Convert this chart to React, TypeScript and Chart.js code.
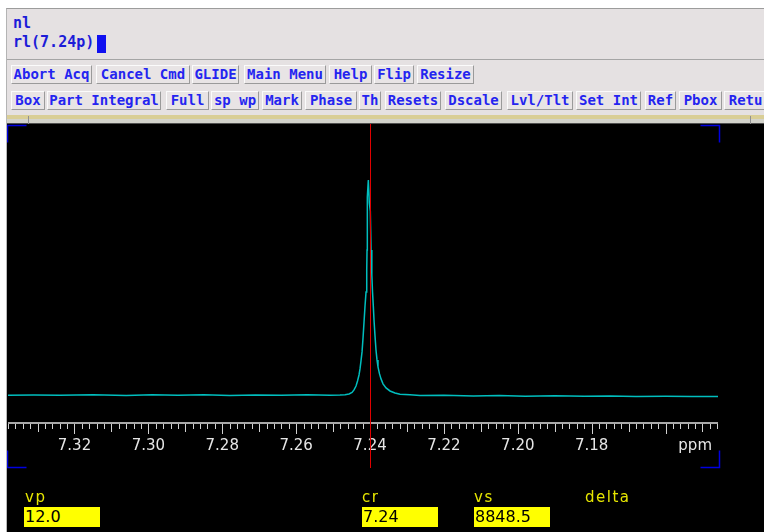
import React, { useEffect, useRef } from "react";
import { Chart, registerables } from "chart.js";

Chart.register(...registerables);

// ---- data ----
const PPM = [
  7.338, 7.331, 7.324, 7.315, 7.306, 7.299, 7.292, 7.285, 7.278, 7.271, 7.264, 7.257,
  7.25082, 7.24812, 7.24677, 7.24568, 7.24487, 7.24433, 7.24379, 7.24338, 7.24298,
  7.24271, 7.24244, 7.24216, 7.24189, 7.24162, 7.24135, 7.24108, 7.24089, 7.24081,
  7.24073, 7.24046, 7.24019, 7.23992, 7.23973, 7.23951, 7.23932, 7.23911, 7.23892,
  7.23865, 7.23838, 7.23811, 7.23784, 7.23743, 7.23702, 7.23648, 7.23567, 7.23459,
  7.23324, 7.23188, 7.22918, 7.22647, 7.22, 7.212, 7.205, 7.198, 7.19, 7.182, 7.175,
  7.168, 7.16, 7.153, 7.1458,
];
const INTENSITY = [
  0.3, 0.4, 0.3, 0.5, 0.2, 0.6, 0.3, 0.5, 0.2, 0.4, 0.3, 0.5,
  0.3, 0.4, 0.6, 0.9, 1.6, 2.8, 4.6, 6.9, 9.7,
  12.5, 16.2, 20.4, 26.9, 34.3, 41.7, 48.1, 58.3, 67.6,
  92.1, 100, 89.4, 85.6, 67.6, 56.0, 48.1, 41.7, 35.2,
  27.8, 21.3, 16.7, 13.4, 10.2, 7.9, 5.6, 3.7, 2.3,
  1.4, 0.8, 0.5, 0.2, 0.3, 0.0, 0.2, -0.1, 0.1, -0.2, 0.0,
  -0.3, -0.2, -0.3, -0.3,
];
const TICK_VALUES = [7.32, 7.3, 7.28, 7.26, 7.24, 7.22, 7.2, 7.18];
const TICK_LABELS = ["7.32", "7.30", "7.28", "7.26", "7.24", "7.22", "7.20", "7.18"];
const X_MIN = 7.1458;
const X_MAX = 7.338;
const Y_MIN = -13;
const Y_MAX = 125.5;
const MINOR_STEP = 0.002;
const CURSOR_PPM = 7.24;
const UNIT_LABEL = "ppm";

const COMMAND_LINES = ["nl", "rl(7.24p)"];
const ROW1_LABELS = ["Abort Acq", "Cancel Cmd", "GLIDE", "Main Menu", "Help", "Flip", "Resize"];
const ROW2_LABELS = ["Box", "Part Integral", "Full", "sp wp", "Mark", "Phase", "Th", "Resets", "Dscale", "Lvl/Tlt", "Set Int", "Ref", "Pbox", "Return"];
const PARAM_NAMES = ["vp", "cr", "vs", "delta"];
const PARAM_VALUES = ["12.0", "7.24", "8848.5"];

// ---- layout (UI chrome) ----
const ROW1_X = [11, 96, 192, 244, 329, 374, 417];
const ROW1_W = [81, 94, 47, 82, 43, 40, 57];
const ROW2_X = [11, 47, 166, 211, 262, 305, 359, 385, 445, 507, 576, 645, 679, 724];
const ROW2_W = [34, 114, 43, 48, 40, 52, 22, 56, 57, 66, 65, 31, 43, 60];
const PARAM_NAME_X = [25, 362, 474, 585];
const PARAM_BOX_X = [24, 362, 474];

const overlayPlugin = {
  id: "vnmrOverlay",
  afterDraw(chart: any) {
    const ctx = chart.ctx;
    const xs = chart.scales.x;
    const area = chart.chartArea;
    const axisY = xs.top;
    ctx.save();
    // axis line
    ctx.strokeStyle = "#a8a8a8";
    ctx.lineWidth = 2;
    ctx.beginPath();
    ctx.moveTo(area.left, axisY - 1);
    ctx.lineTo(area.right, axisY - 1);
    ctx.stroke();
    // tick marks
    ctx.strokeStyle = "#d0d0d0";
    ctx.lineWidth = 1;
    const i0 = Math.ceil(X_MIN / MINOR_STEP - 1e-6);
    const i1 = Math.floor(X_MAX / MINOR_STEP + 1e-6);
    for (let i = i0; i <= i1; i++) {
      const v = i * MINOR_STEP;
      const px = Math.round(xs.getPixelForValue(v)) + 0.5;
      const len = i % 10 === 0 ? 10 : i % 5 === 0 ? 8 : 5;
      ctx.beginPath();
      ctx.moveTo(px, axisY);
      ctx.lineTo(px, axisY + len);
      ctx.stroke();
    }
    // unit label
    ctx.fillStyle = "#e6e6e6";
    ctx.font = "15px 'DejaVu Sans'";
    ctx.textAlign = "right";
    ctx.textBaseline = "middle";
    ctx.fillText(UNIT_LABEL, area.right - 6, axisY + 13 + 9);
    // cursor
    const cx = Math.round(xs.getPixelForValue(CURSOR_PPM)) + 0.5;
    ctx.strokeStyle = "#e00000";
    ctx.lineWidth = 1;
    ctx.beginPath();
    ctx.moveTo(cx, 0);
    ctx.lineTo(cx, xs.bottom);
    ctx.stroke();
    // corner brackets
    ctx.strokeStyle = "#0000e0";
    ctx.lineWidth = 1.5;
    const L = area.left - 0.5;
    const R = area.right + 1.5;
    const T = area.top + 0.5;
    const B = xs.bottom - 0.5;
    const hl = 19;
    const vl = 17;
    ctx.beginPath();
    ctx.moveTo(L + hl, T); ctx.lineTo(L, T); ctx.lineTo(L, T + vl);
    ctx.moveTo(R - hl, T); ctx.lineTo(R, T); ctx.lineTo(R, T + vl);
    ctx.moveTo(L, B - vl); ctx.lineTo(L, B); ctx.lineTo(L + hl, B);
    ctx.moveTo(R, B - vl); ctx.lineTo(R, B); ctx.lineTo(R - hl, B);
    ctx.stroke();
    ctx.restore();
  },
};

function Spectrum() {
  const ref = useRef<HTMLCanvasElement | null>(null);
  useEffect(() => {
    if (!ref.current) return;
    const chart = new Chart(ref.current, {
      type: "line",
      data: {
        datasets: [
          {
            data: PPM.map((p, i) => ({ x: p, y: INTENSITY[i] })),
            borderColor: "#00bebe",
            borderWidth: 1.5,
            pointRadius: 0,
            tension: 0,
            fill: false,
          },
        ],
      },
      options: {
        animation: false,
        responsive: false,
        maintainAspectRatio: false,
        devicePixelRatio: 1,
        layout: { padding: { left: 1, right: 46, top: 1, bottom: 64 } },
        plugins: { legend: { display: false }, tooltip: { enabled: false } },
        scales: {
          x: {
            type: "linear",
            reverse: true,
            min: X_MIN,
            max: X_MAX,
            afterBuildTicks: (axis: any) => {
              axis.ticks = TICK_VALUES.map((v) => ({ value: v }));
            },
            grid: { display: false, drawTicks: false },
            border: { display: false },
            ticks: {
              autoSkip: false,
              maxRotation: 0,
              minRotation: 0,
              padding: 13,
              color: "#e6e6e6",
              font: { family: "'DejaVu Sans'", size: 15 },
              callback: (_v: any, idx: number) => TICK_LABELS[idx],
            },
          },
          y: { display: false, min: Y_MIN, max: Y_MAX },
        },
      },
      plugins: [overlayPlugin],
    } as any);
    return () => chart.destroy();
  }, []);
  return <canvas ref={ref} width={757} height={408} style={{ display: "block", width: 757, height: 408 }} />;
}

const btnStyle: React.CSSProperties = {
  position: "absolute",
  height: 19,
  boxSizing: "border-box",
  border: "1px solid",
  borderColor: "#fbfbfb #9a9a9a #9a9a9a #fbfbfb",
  background: "#e8e4e5",
  font: "bold 14px 'DejaVu Sans Mono'",
  color: "#2424f0",
  lineHeight: "17px",
  textAlign: "center",
  whiteSpace: "nowrap",
  overflow: "hidden",
};

export default function App() {
  return (
    <div style={{ position: "fixed", left: 0, top: 0, width: 764, height: 532, overflow: "hidden", background: "#ffffff" }}>
      {/* command / menu panel */}
      <div style={{ position: "absolute", left: 6, top: 8, width: 760, height: 107, background: "#e5e1e2", borderTop: "1px solid #9c9c9c", borderLeft: "1px solid #b4b4b4", boxSizing: "border-box" }} />
      {COMMAND_LINES.map((t, i) => (
        <div key={t} style={{ position: "absolute", left: 13, top: 15 + i * 19, font: "bold 15px 'DejaVu Sans Mono'", color: "#1c1cd8", lineHeight: "17px", whiteSpace: "pre" }}>{t}</div>
      ))}
      <div style={{ position: "absolute", left: 97, top: 35, width: 9, height: 18, background: "#1010f0" }} />
      <div style={{ position: "absolute", left: 7, top: 59, width: 760, height: 1, background: "#a5a5a5" }} />
      {ROW1_LABELS.map((t, i) => (
        <div key={t} style={{ ...btnStyle, left: ROW1_X[i], top: 65, width: ROW1_W[i] }}>{t}</div>
      ))}
      {ROW2_LABELS.map((t, i) => (
        <div key={t} style={{ ...btnStyle, left: ROW2_X[i], top: 91, width: ROW2_W[i] }}>{t}</div>
      ))}
      {/* strip */}
      <div style={{ position: "absolute", left: 6, top: 115, width: 760, height: 4, background: "#d9ce96" }} />
      <div style={{ position: "absolute", left: 6, top: 119, width: 760, height: 4, background: "#d3d3cb" }} />
      <div style={{ position: "absolute", left: 6, top: 123, width: 760, height: 1, background: "#505050" }} />
      <div style={{ position: "absolute", left: 28, top: 116, width: 1, height: 8, background: "#909090" }} />
      <div style={{ position: "absolute", left: 750, top: 116, width: 1, height: 8, background: "#909090" }} />
      <div style={{ position: "absolute", left: 6, top: 115, width: 1, height: 417, background: "#b8b8b8" }} />
      {/* black display */}
      <div style={{ position: "absolute", left: 7, top: 124, width: 757, height: 408, background: "#000000" }}>
        <Spectrum />
      </div>
      {PARAM_NAMES.map((t, i) => (
        <div key={t} style={{ position: "absolute", left: PARAM_NAME_X[i], top: 489, font: "15px 'DejaVu Sans'", letterSpacing: "1.5px", color: "#e6e600", lineHeight: "17px" }}>{t}</div>
      ))}
      {PARAM_VALUES.map((t, i) => (
        <div key={i} style={{ position: "absolute", left: PARAM_BOX_X[i], top: 507, width: 76, height: 20, background: "#ffff00", font: "16px 'DejaVu Sans'", color: "#000", lineHeight: "20px", paddingLeft: 1, boxSizing: "border-box" }}>{t}</div>
      ))}
    </div>
  );
}
